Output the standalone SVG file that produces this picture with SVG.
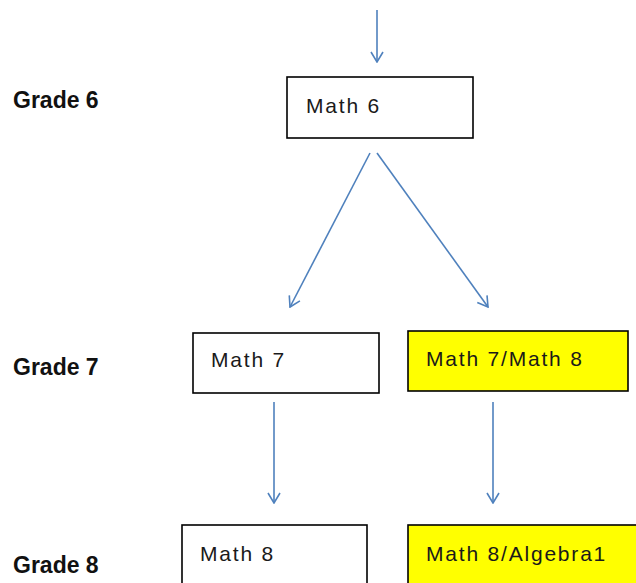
<svg xmlns="http://www.w3.org/2000/svg" width="636" height="583" viewBox="0 0 636 583">
<style>
.box{stroke:#000;stroke-width:1.6;fill:#fff}
.yel{fill:#ffff00}
.lbl{font-family:"Liberation Sans",Arial,sans-serif;font-size:21px;letter-spacing:1.8px;fill:#1a1a1a}
.grade{font-family:"Liberation Sans",Arial,sans-serif;font-size:23px;font-weight:bold;fill:#111}
.conn{stroke:#4f81bd;stroke-width:1.6;fill:none}
</style>
<defs>
<marker id="arr" viewBox="0 0 12 14" refX="11" refY="7" markerWidth="12" markerHeight="14" markerUnits="userSpaceOnUse" orient="auto">
<path d="M1,1 L11,7 L1,13" fill="none" stroke="#4f81bd" stroke-width="1.6"/>
</marker>
</defs>
<rect width="636" height="583" fill="#fff"/>
<g id="grades">
<text class="grade" x="13" y="108">Grade 6</text>
<text class="grade" x="13" y="375">Grade 7</text>
<text class="grade" x="13" y="573">Grade 8</text>
</g>
<g id="connectors">
<line class="conn" x1="377" y1="10" x2="377" y2="62" marker-end="url(#arr)"/>
<line class="conn" x1="370" y1="153" x2="290" y2="307" marker-end="url(#arr)"/>
<line class="conn" x1="377" y1="153" x2="488" y2="307" marker-end="url(#arr)"/>
<line class="conn" x1="274" y1="402" x2="274" y2="503" marker-end="url(#arr)"/>
<line class="conn" x1="493" y1="402" x2="493" y2="503" marker-end="url(#arr)"/>
</g>
<g id="math6">
<rect class="box" x="287" y="77" width="186" height="61"/>
<text class="lbl" x="306" y="113">Math 6</text>
</g>
<g id="math7">
<rect class="box" x="193" y="333" width="186" height="60"/>
<text class="lbl" x="211" y="367">Math 7</text>
</g>
<g id="math7math8">
<rect class="box yel" x="408" y="331" width="220" height="60"/>
<text class="lbl" x="426" y="366">Math 7/Math 8</text>
</g>
<g id="math8">
<rect class="box" x="182" y="525" width="185" height="70"/>
<text class="lbl" x="200" y="561">Math 8</text>
</g>
<g id="math8alg1">
<rect class="box yel" x="408" y="525" width="240" height="70"/>
<text class="lbl" x="426" y="561">Math 8/Algebra1</text>
</g>
</svg>
